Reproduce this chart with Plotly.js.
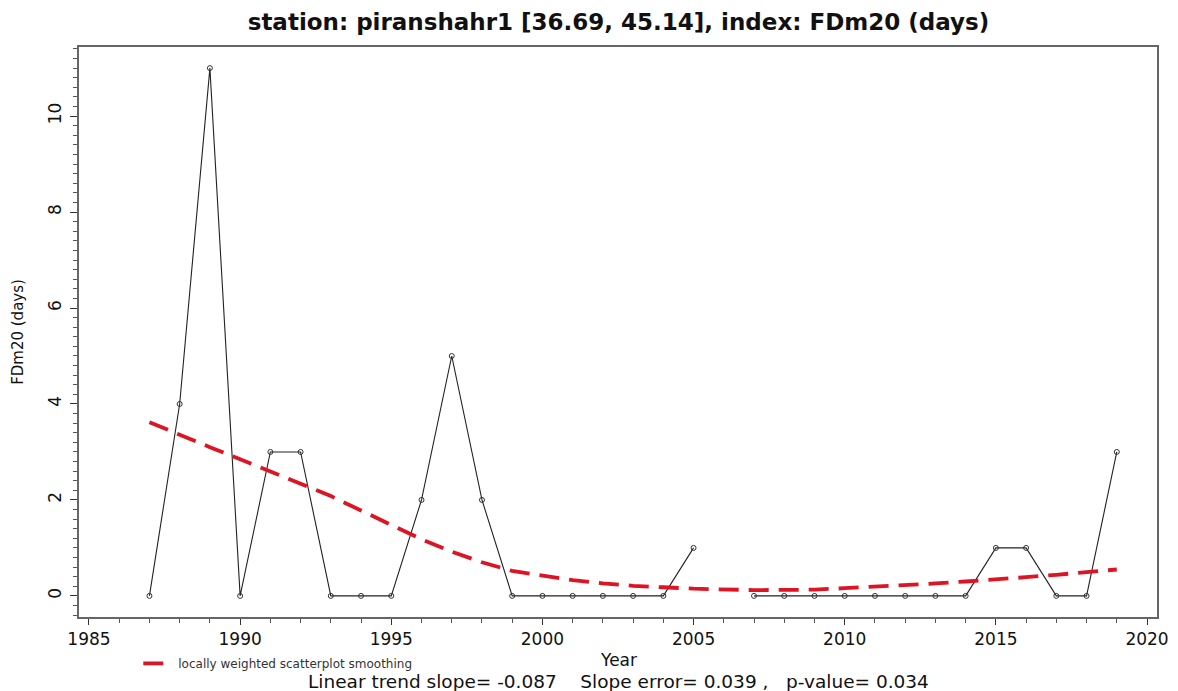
<!DOCTYPE html>
<html>
<head>
<meta charset="utf-8">
<script src="https://cdn.plot.ly/plotly-3.0.1.min.js"></script>
<style>html,body{margin:0;padding:0;background:#fff}#chart{width:1178px;height:691px}</style>
</head>
<body>
<div id="chart"></div>
<script>
var years = [1987,1988,1989,1990,1991,1992,1993,1994,1995,1996,1997,1998,1999,2000,2001,2002,2003,2004,2005,2006,2007,2008,2009,2010,2011,2012,2013,2014,2015,2016,2017,2018,2019];
var fdm20 = [0,4,11,0,3,3,0,0,0,2,5,2,0,0,0,0,0,0,1,null,0,0,0,0,0,0,0,0,1,1,0,0,3];
var lowessYears = [1987,1988,1989,1990,1991,1992,1993,1994,1995,1996,1997,1998,1999,2000,2001,2002,2003,2004,2005,2007,2008,2009,2010,2011,2012,2013,2014,2015,2016,2017,2018,2019];
var lowessVals = [3.62,3.35,3.1,2.85,2.6,2.35,2.08,1.78,1.48,1.18,0.92,0.7,0.52,0.42,0.33,0.26,0.21,0.18,0.15,0.12,0.12,0.13,0.16,0.19,0.22,0.26,0.3,0.34,0.39,0.44,0.5,0.55];
var titleText = "station: piranshahr1 [36.69, 45.14], index: FDm20 (days)";
var xTitleText = "Year";
var statsText = "Linear trend slope= -0.087    Slope error= 0.039 ,   p-value= 0.034";

var traces = [
  {
    x: years, y: fdm20, type: "scatter", mode: "lines+markers",
    connectgaps: false, showlegend: false, name: "FDm20",
    line: {color: "#222", width: 1.1},
    marker: {symbol: "circle-open", size: 5, color: "#333", line: {width: 1, color: "#333"}}
  },
  {
    x: lowessYears, y: lowessVals, type: "scatter", mode: "lines",
    name: "locally weighted scatterplot smoothing", showlegend: true,
    line: {color: "rgb(220,20,35)", width: 3.8, dash: "20px,10px"}
  }
];

var font = "DejaVu Sans, Liberation Sans, Arial, sans-serif";
var layout = {
  width: 1178, height: 691,
  margin: {l: 79, r: 21, t: 47, b: 74, autoexpand: false},
  paper_bgcolor: "#fff", plot_bgcolor: "#fff",
  font: {family: font, color: "#111"},
  title: {text: "<b>" + titleText + "</b>", font: {family: font, size: 23, color: "#111"}, x: 0.525, xanchor: "center", y: 0.968, yanchor: "middle"},
  xaxis: {
    range: [1984.67, 2020.33], showgrid: false, zeroline: false,
    showline: true, mirror: true, linecolor: "#666", linewidth: 2,
    ticks: "outside", ticklen: 6, tickwidth: 1, tickcolor: "#333",
    ticklabelstandoff: 0,
    dtick: 5, tick0: 1985, tickfont: {size: 17, family: font, color: "#111"},
    minor: {dtick: 1, ticks: "outside", ticklen: 4, tickcolor: "#555", showgrid: false}
  },
  yaxis: {
    range: [-0.44, 11.44], showgrid: false, zeroline: false,
    showline: true, mirror: true, linecolor: "#666", linewidth: 2,
    ticks: "outside", ticklen: 7, tickwidth: 1, tickcolor: "#333",
    ticklabelstandoff: 2,
    dtick: 2, tick0: 0, tickangle: -90, tickfont: {size: 17, family: font, color: "#111"},
    minor: {dtick: 0.2, ticks: "outside", ticklen: 4, tickcolor: "#555", showgrid: false},
    title: {text: "FDm20 (days)", font: {size: 15, family: font}, standoff: 18}
  },
  legend: {
    x: 0.055, xref: "paper", y: 0.04, yref: "container", xanchor: "left", yanchor: "middle", orientation: "h",
    font: {size: 12, family: font, color: "#333"}, bgcolor: "rgba(0,0,0,0)", itemwidth: 30
  },
  annotations: [
    {text: xTitleText, xref: "paper", yref: "paper", x: 0.5, y: -0.075, xanchor: "center", yanchor: "middle", showarrow: false, font: {size: 17, family: font, color: "#111"}},
    {text: statsText, xref: "paper", yref: "paper", x: 0.5, y: -0.113, xanchor: "center", yanchor: "middle", showarrow: false, font: {size: 18.5, family: font, color: "#111"}}
  ]
};

Plotly.newPlot("chart", traces, layout, {displayModeBar: false, responsive: false});
</script>
</body>
</html>
